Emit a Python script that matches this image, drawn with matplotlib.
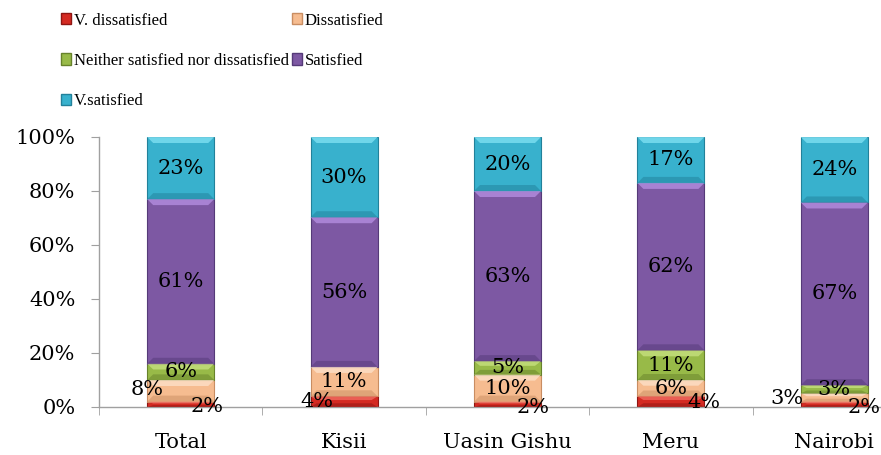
import matplotlib
matplotlib.use("Agg")
import matplotlib.pyplot as plt
from matplotlib.patches import Patch, Polygon
import numpy as np

categories = ["Total", "Kisii", "Uasin Gishu", "Meru", "Nairobi"]
series_names = ["V. dissatisfied", "Dissatisfied",
                "Neither satisfied nor dissatisfied", "Satisfied", "V.satisfied"]
v_dissatisfied = [2, 4, 2, 4, 2]
dissatisfied = [8, 11, 10, 6, 3]
neither = [6, 0, 5, 11, 3]
satisfied = [61, 56, 63, 62, 67]
v_satisfied = [23, 30, 20, 17, 24]
y_ticks = [0, 20, 40, 60, 80, 100]

colors = ["#d42a22", "#f6bc90", "#98ba48", "#7d58a3", "#38b1cd"]
edges = ["#8e1512", "#c98d62", "#67822b", "#553a78", "#22819a"]
highlights = ["#f06a60", "#fde0c8", "#c6e07e", "#b48de0", "#7ee0f2"]

# label nudges in pixels (dx, dy) for the thin segments, keyed by (series, category)
nudges = {
    (0, 0): (26, -2), (1, 0): (-34, 1),
    (0, 1): (-27, 0),
    (0, 2): (26, -3),
    (0, 3): (33, -1),
    (0, 4): (30, -3), (1, 4): (-47, -1),
}

axis_font = ["DejaVu Serif"]
legend_font = ["Liberation Serif", "DejaVu Serif"]

W, H = 881, 455
fig = plt.figure(figsize=(W / 100, H / 100), dpi=100)
ax = fig.add_axes([99 / W, 48 / H, 5 * 163.4 / W, 270 / H])

data = np.array([v_dissatisfied, dissatisfied, neither, satisfied, v_satisfied], dtype=float)
totals = data.sum(axis=0)
shares = data / totals * 100.0
x = np.arange(len(categories))
width = 0.41
bottom = np.zeros(len(categories))

px_per_unit_y = 270 / 100.0
px_per_unit_x = 163.4

for i in range(len(series_names)):
    ax.bar(x, shares[i], width, bottom=bottom, color=colors[i],
           edgecolor=edges[i], linewidth=0.8, zorder=2)
    for j in range(len(categories)):
        h = shares[i, j]
        if h <= 0:
            continue
        # bevel highlight along the top of each segment
        bev_y = min(6 / px_per_unit_y, h * 0.35)
        bev_x = 6 / px_per_unit_x
        x0, x1 = x[j] - width / 2, x[j] + width / 2
        top = bottom[j] + h
        ax.add_patch(Polygon([(x0, top), (x1, top), (x1 - bev_x, top - bev_y),
                              (x0 + bev_x, top - bev_y)], closed=True,
                             facecolor=highlights[i], edgecolor="none", alpha=0.8, zorder=3))
        # darker bottom band
        ax.add_patch(Polygon([(x0, bottom[j]), (x1, bottom[j]), (x1 - bev_x, bottom[j] + bev_y),
                              (x0 + bev_x, bottom[j] + bev_y)], closed=True,
                             facecolor=edges[i], edgecolor="none", alpha=0.5, zorder=3))
        dx, dy = nudges.get((i, j), (0, 0))
        ax.annotate(f"{int(data[i, j])}%", (x[j], bottom[j] + h / 2),
                    xytext=(dx * 0.72, dy * 0.72), textcoords="offset points",
                    ha="center", va="center", fontsize=15, color="black", zorder=5,
                    family=axis_font, annotation_clip=False)
    bottom += shares[i]

ax.set_xlim(-0.5, len(categories) - 0.5)
ax.set_ylim(0, 100)
ax.set_yticks(y_ticks)
ax.set_yticklabels([f"{t}%" for t in y_ticks], fontsize=15, family=axis_font)
ax.set_xticks(x)
ax.set_xticklabels(categories, fontsize=15, family=axis_font)
ax.set_xticks(np.arange(len(categories) + 1) - 0.5, minor=True)
ax.tick_params(axis="x", which="major", length=0, pad=19)
ax.tick_params(axis="x", which="minor", length=6, color="#a0a0a0", direction="out")
ax.tick_params(axis="y", length=6, color="#a0a0a0", pad=11)
for s in ["top", "right"]:
    ax.spines[s].set_visible(False)
for s in ["left", "bottom"]:
    ax.spines[s].set_color("#a0a0a0")
    ax.spines[s].set_linewidth(1.0)

handles = [Patch(facecolor=colors[i], edgecolor=edges[i], label=series_names[i]) for i in range(5)]
order = [0, 2, 4, 1, 3]
fig.legend([handles[k] for k in order], [series_names[k] for k in order],
           loc="upper left", bbox_to_anchor=(54 / W, 1 - 6 / H), ncol=2,
           frameon=False, prop={"family": legend_font, "size": 12},
           handlelength=0.6, handleheight=0.65,
           handletextpad=0.2, columnspacing=0.15, labelspacing=1.45, borderaxespad=0)

fig.savefig("out.png", dpi=100)
